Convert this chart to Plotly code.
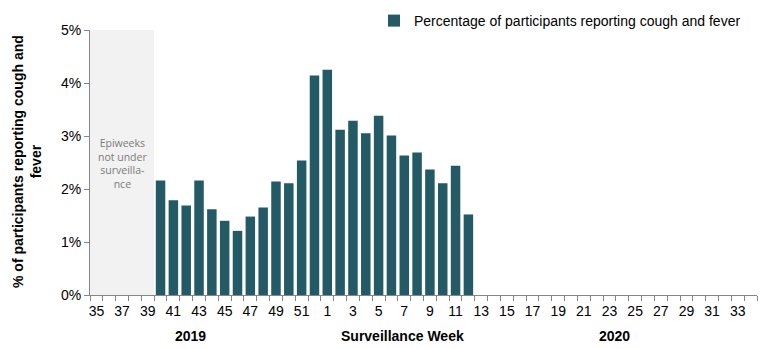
import plotly.graph_objects as go

weeks = [str(w) for w in range(35, 53)] + [str(w) for w in range(1, 35)]
values = [None, None, None, None, None,
          2.16, 1.79, 1.69, 2.16, 1.62, 1.40, 1.21, 1.48, 1.65, 2.14, 2.11, 2.54, 4.14,
          4.25, 3.12, 3.29, 3.05, 3.38, 3.01, 2.63, 2.69, 2.37, 2.11, 2.44, 1.52] + [None] * 22
series_name = "Percentage of participants reporting cough and fever"
y_ticks = [0, 1, 2, 3, 4, 5]

idx = list(range(len(weeks)))
bar_color = "#245966"
axis_color = "#868686"
font_family = "Liberation Sans, Arial, sans-serif"
FS = 14

W, H = 773, 349
pl, pr, pt, pb = 90, 16, 30, 54
pw, ph = W - pl - pr, H - pt - pb

fig = go.Figure()
fig.add_trace(go.Bar(x=idx, y=values, name=series_name, marker_color=bar_color,
                     marker_line_width=0))

fig.add_shape(type="rect", xref="x", yref="y", x0=-0.5, x1=4.5, y0=0, y1=5,
              fillcolor="#f2f2f2", line_width=0, layer="below")

fig.add_annotation(x=2, y=2.48, xref="x", yref="y",
                   text="Epiweeks<br>not under<br>surveilla-<br>nce",
                   showarrow=False, font=dict(family="Open Sans", size=10.5, color="#7a7a7a"))

tick_idx = idx[::2]
fig.update_xaxes(range=[-0.5, len(weeks) - 0.5], tickmode="array", tickvals=tick_idx,
                 ticktext=[weeks[i] for i in tick_idx], ticks="", showline=True,
                 linecolor=axis_color, linewidth=1, showgrid=False, zeroline=False,
                 ticklabelstandoff=3,
                 tickfont=dict(family=font_family, size=FS, color="#000"),
                 minor=dict(tickmode="array", tickvals=[i - 0.5 for i in idx] + [len(weeks) - 0.5],
                            ticks="outside", ticklen=5, tickcolor=axis_color, showgrid=False))
fig.update_yaxes(range=[0, 5], tickvals=y_ticks, ticktext=[f"{v}%" for v in y_ticks],
                 ticks="outside", ticklen=5, tickcolor=axis_color, showline=True,
                 linecolor=axis_color, linewidth=1, showgrid=False, zeroline=False,
                 tickfont=dict(family=font_family, size=FS, color="#000"))

label_y = ((H - pb) - 336) / ph
for txt, xpos in [("2019", 7.3), ("Surveillance Week", 23.9), ("2020", 40.4)]:
    fig.add_annotation(x=xpos, y=label_y, xref="x", yref="paper", yanchor="middle",
                       text=f"<b>{txt}</b>", showarrow=False,
                       font=dict(family=font_family, size=FS, color="#000"))

fig.add_annotation(x=(27 - pl) / pw, y=((H - pb) - 162) / ph, xref="paper", yref="paper",
                   xanchor="center", yanchor="middle",
                   text="<b>% of participants reporting cough and<br>fever</b>", textangle=-90,
                   showarrow=False, font=dict(family=font_family, size=FS, color="#000"))

fig.update_layout(
    width=W, height=H, margin=dict(l=pl, r=pr, t=pt, b=pb, autoexpand=False),
    paper_bgcolor="white", plot_bgcolor="white", bargap=0.26,
    showlegend=True,
    legend=dict(orientation="h", xref="container", yref="container",
                x=374 / W, y=1 - 5 / H, xanchor="left", yanchor="top",
                font=dict(family=font_family, size=FS, color="#000"), bgcolor="rgba(0,0,0,0)"),
    font=dict(family=font_family),
)

fig.write_html("out.html")
